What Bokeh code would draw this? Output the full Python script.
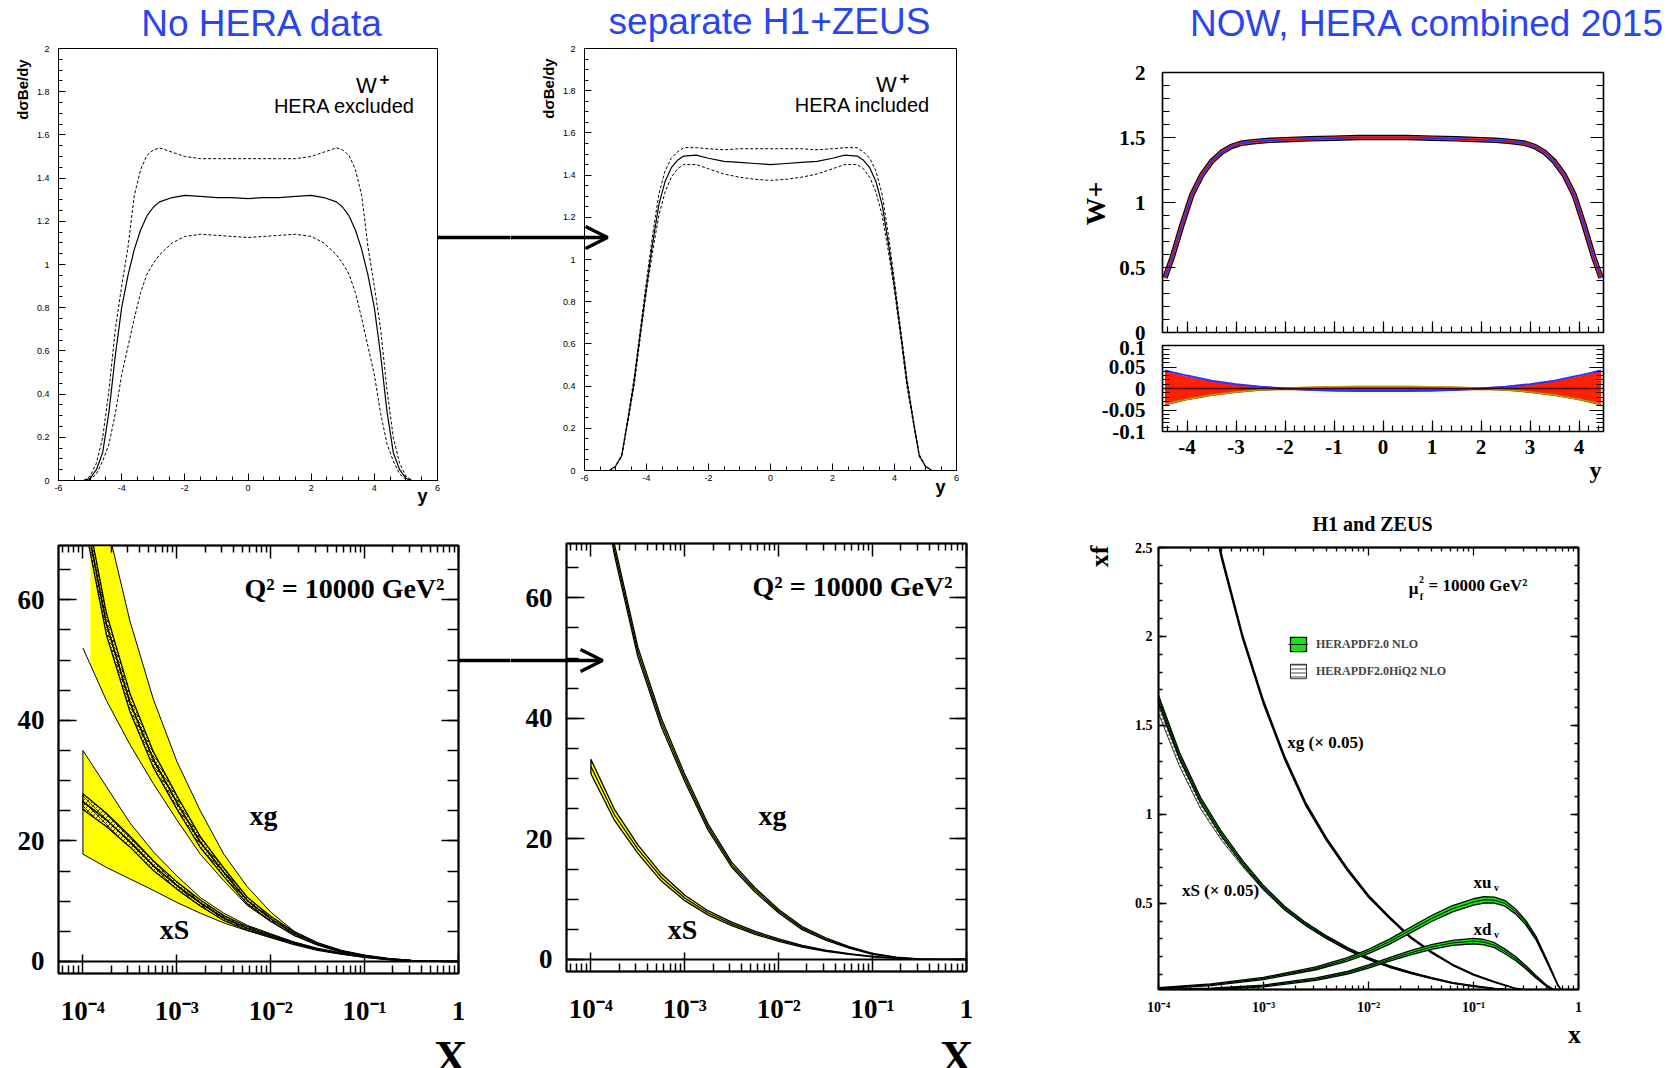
import math
import json
from bokeh.plotting import figure
from bokeh.layouts import row, column
from bokeh.models import (Range1d, LinearAxis, LogAxis, FixedTicker, Label, Arrow, OpenHead,
                          Span, CustomJSTickFormatter, Legend, LegendItem)
from bokeh.embed import file_html
from bokeh.resources import INLINE

W, H = 1672, 1068
SERIF = "Liberation Serif"
SANS = "Liberation Sans"
TITLE_BLUE = "#2a44f2"
YELLOW = "#ffff00"
GREEN = "#14e614"

# ---------------- data: W+ rapidity, HERA excluded / included ----------------
rap = [-5.2, -5.0, -4.8, -4.6, -4.4, -4.2, -4.0, -3.8, -3.6, -3.4, -3.2, -3.0, -2.8, -2.4, -2.0,
       -1.5, -1.0, -0.5, 0.0, 0.5, 1.0, 1.5, 2.0, 2.4, 2.8, 3.0, 3.2, 3.4, 3.6, 3.8, 4.0, 4.2,
       4.4, 4.6, 4.8, 5.0, 5.2]
excl_central = [0.0, 0.01, 0.05, 0.13, 0.32, 0.58, 0.80, 0.95, 1.07, 1.16, 1.225, 1.265, 1.29, 1.31, 1.32,
                1.315, 1.31, 1.31, 1.305, 1.31, 1.31, 1.315, 1.32, 1.31, 1.29, 1.265, 1.225, 1.16, 1.07, 0.95,
                0.80, 0.58, 0.32, 0.13, 0.05, 0.01, 0.0]
excl_up = [0.0, 0.02, 0.08, 0.20, 0.42, 0.70, 0.90, 1.08, 1.32, 1.44, 1.505, 1.53, 1.54, 1.52, 1.50,
           1.49, 1.49, 1.49, 1.49, 1.49, 1.49, 1.49, 1.50, 1.52, 1.54, 1.53, 1.505, 1.44, 1.32, 1.08,
           0.90, 0.70, 0.42, 0.20, 0.08, 0.02, 0.0]
excl_lo = [0.0, 0.005, 0.03, 0.09, 0.17, 0.31, 0.49, 0.62, 0.75, 0.87, 0.955, 1.005, 1.045, 1.10, 1.13,
           1.14, 1.135, 1.13, 1.125, 1.13, 1.135, 1.14, 1.13, 1.10, 1.045, 1.005, 0.955, 0.87, 0.75, 0.62,
           0.49, 0.31, 0.17, 0.09, 0.03, 0.005, 0.0]
incl_central = [0.0, 0.02, 0.07, 0.24, 0.42, 0.65, 0.87, 1.08, 1.26, 1.37, 1.435, 1.47, 1.49, 1.495, 1.48,
                1.465, 1.46, 1.455, 1.45, 1.455, 1.46, 1.465, 1.48, 1.495, 1.49, 1.47, 1.435, 1.37, 1.26, 1.08,
                0.87, 0.65, 0.42, 0.24, 0.07, 0.02, 0.0]
incl_up = [0.0, 0.02, 0.075, 0.25, 0.44, 0.67, 0.90, 1.12, 1.31, 1.42, 1.48, 1.51, 1.53, 1.53, 1.525,
           1.52, 1.525, 1.525, 1.525, 1.525, 1.525, 1.52, 1.525, 1.53, 1.53, 1.51, 1.48, 1.42, 1.31, 1.12,
           0.90, 0.67, 0.44, 0.25, 0.075, 0.02, 0.0]
incl_lo = [0.0, 0.02, 0.065, 0.23, 0.40, 0.63, 0.85, 1.04, 1.21, 1.32, 1.39, 1.43, 1.45, 1.45, 1.43,
           1.405, 1.39, 1.38, 1.375, 1.38, 1.39, 1.405, 1.43, 1.45, 1.45, 1.43, 1.39, 1.32, 1.21, 1.04,
           0.85, 0.63, 0.40, 0.23, 0.065, 0.02, 0.0]

# ---------------- data: W+ HERA combined 2015 ----------------
rap3 = [-4.45, -4.3, -4.1, -3.9, -3.7, -3.5, -3.3, -3.1, -2.9, -2.6, -2.3, -2.0, -1.5, -1.0, -0.5, 0.0,
        0.5, 1.0, 1.5, 2.0, 2.3, 2.6, 2.9, 3.1, 3.3, 3.5, 3.7, 3.9, 4.1, 4.3, 4.45]
wplus = [0.42, 0.58, 0.83, 1.06, 1.21, 1.315, 1.385, 1.43, 1.455, 1.47, 1.478, 1.483, 1.49, 1.495, 1.5, 1.5,
         1.5, 1.495, 1.49, 1.483, 1.478, 1.47, 1.455, 1.43, 1.385, 1.315, 1.21, 1.06, 0.83, 0.58, 0.42]
rap_r = [-4.45, -4.0, -3.5, -3.0, -2.5, -2.0, -1.5, -1.0, -0.5, 0.0, 0.5, 1.0, 1.5, 2.0, 2.5, 3.0, 3.5, 4.0, 4.45]
ratio_hi = [0.04, 0.028, 0.017, 0.01, 0.005, 0.003, 0.004, 0.005, 0.005, 0.005, 0.005, 0.005, 0.004, 0.003,
            0.005, 0.01, 0.017, 0.028, 0.04]
ratio_lo = [-0.038, -0.026, -0.016, -0.009, -0.004, -0.002, -0.004, -0.004, -0.005, -0.005, -0.005, -0.004,
            -0.004, -0.002, -0.004, -0.009, -0.016, -0.026, -0.038]
ratio_blue = [0.042, 0.03, 0.018, 0.01, 0.004, 0.0, -0.003, -0.005, -0.006, -0.006, -0.006, -0.005, -0.003,
              0.0, 0.004, 0.01, 0.018, 0.03, 0.042]
ratio_olive = [-0.036, -0.025, -0.015, -0.008, -0.003, 0.001, 0.003, 0.004, 0.005, 0.005, 0.005, 0.004,
               0.003, 0.001, -0.003, -0.008, -0.015, -0.025, -0.036]

# ---------------- data: PDFs at Q2 = 10000 GeV2 (log10 x grid) ----------------
lx = [-4.0, -3.75, -3.5, -3.25, -3.0, -2.75, -2.5, -2.25, -2.0, -1.75, -1.5, -1.25, -1.0, -0.75, -0.5, -0.25, 0.0]
# no HERA
nh_xg = [76, 56, 43, 33.5, 26.4, 19.8, 14.8, 10.1, 7.1, 4.6, 2.9, 1.7, 0.95, 0.45, 0.15, 0.03, 0.0]
nh_xg_w = [2.0, 1.8, 1.5, 1.3, 1.1, 0.9, 0.7, 0.55, 0.4, 0.3, 0.2, 0.15, 0.1, 0.06, 0.03, 0.01, 0.0]
nh_xg_fill_start = -3.92
nh_xg_hi = [95, 73, 56.5, 43.5, 33.2, 25, 17.8, 12.4, 8.2, 5.0, 3.1, 1.8, 1.0, 0.47, 0.16, 0.03, 0.0]
nh_xg_lo = [52, 43.3, 36, 29.5, 23.5, 17.8, 13.4, 9.3, 6.6, 4.3, 2.75, 1.62, 0.9, 0.43, 0.14, 0.03, 0.0]
nh_xg_lo_start = 49.5
nh_xg_hi_start = 85
nh_xs = [26.5, 23.5, 19.9, 15.9, 12.6, 9.7, 7.2, 5.5, 4.2, 3.0, 2.0, 1.3, 0.75, 0.35, 0.1, 0.02, 0.0]
nh_xs_w = [1.3, 1.1, 0.9, 0.8, 0.6, 0.5, 0.4, 0.3, 0.25, 0.2, 0.15, 0.1, 0.06, 0.04, 0.02, 0.01, 0.0]
nh_xs_hi = [35, 29, 23, 18.2, 14.2, 10.6, 8.0, 6.0, 4.6, 3.2, 2.1, 1.35, 0.78, 0.36, 0.1, 0.02, 0.0]
nh_xs_lo = [17.8, 15.6, 13.7, 11.8, 9.8, 8.0, 6.4, 5.1, 4.0, 2.9, 1.95, 1.27, 0.73, 0.34, 0.1, 0.02, 0.0]
# separate H1 + ZEUS
h_xg = [90, 68, 51, 39.3, 30.1, 21.9, 15.7, 11.5, 8.0, 5.2, 3.4, 2.0, 0.93, 0.35, 0.06, 0.01, 0.0]
h_xg_w = [1.0, 0.9, 0.8, 0.7, 0.6, 0.5, 0.4, 0.35, 0.3, 0.25, 0.2, 0.12, 0.08, 0.04, 0.02, 0.0, 0.0]
h_xs = [32.0, 24.0, 18.3, 13.6, 10.2, 7.7, 5.9, 4.4, 3.2, 2.2, 1.44, 0.9, 0.46, 0.2, 0.05, 0.01, 0.0]
h_xs_w = [1.2, 0.9, 0.7, 0.6, 0.45, 0.35, 0.3, 0.25, 0.2, 0.15, 0.1, 0.07, 0.05, 0.03, 0.01, 0.0, 0.0]

# HERAPDF2.0 NLO, mu_f^2 = 10000 GeV^2
lx6 = [-4.0, -3.8, -3.6, -3.4, -3.2, -3.0, -2.8, -2.6, -2.4, -2.2, -2.0, -1.8, -1.6, -1.4, -1.2, -1.0,
       -0.8, -0.6, -0.4, -0.2, 0.0]
hp_xg = [4.6, 3.7, 3.0, 2.45, 2.0, 1.63, 1.32, 1.06, 0.86, 0.69, 0.54, 0.42, 0.31, 0.225, 0.155, 0.1,
         0.058, 0.022, 0.004, 0.0, 0.0]
hp_xg_w = [0.02, 0.018, 0.016, 0.014, 0.012, 0.011, 0.01, 0.009, 0.008, 0.007, 0.006, 0.005, 0.004,
           0.004, 0.003, 0.003, 0.002, 0.001, 0.0, 0.0, 0.0]
hp_xs = [1.65, 1.33, 1.08, 0.89, 0.73, 0.59, 0.475, 0.385, 0.31, 0.245, 0.19, 0.145, 0.11, 0.08, 0.053,
         0.035, 0.021, 0.01, 0.004, 0.001, 0.0]
hp_xs_w = [0.02, 0.018, 0.016, 0.014, 0.012, 0.01, 0.009, 0.008, 0.007, 0.006, 0.005, 0.004, 0.003,
           0.003, 0.002, 0.002, 0.001, 0.001, 0.0, 0.0, 0.0]
hq_xs = [1.59, 1.29, 1.05, 0.87, 0.72, 0.585, 0.472, 0.383, 0.309, 0.244, 0.19, 0.145, 0.11, 0.08, 0.053,
         0.035, 0.021, 0.01, 0.004, 0.001, 0.0]
hq_xs_w = [0.022, 0.02, 0.018, 0.015, 0.013, 0.011, 0.01, 0.009, 0.008, 0.007, 0.006, 0.005, 0.004,
           0.003, 0.002, 0.002, 0.001, 0.001, 0.0, 0.0, 0.0]
lx6v = [-4.0, -3.5, -3.0, -2.5, -2.2, -2.0, -1.8, -1.6, -1.4, -1.2, -1.0, -0.9, -0.8, -0.7, -0.6, -0.5,
        -0.4, -0.3, -0.25, -0.2, -0.15]
hp_xuv = [0.023, 0.043, 0.078, 0.135, 0.185, 0.23, 0.285, 0.35, 0.415, 0.47, 0.508, 0.52, 0.518, 0.5,
          0.455, 0.39, 0.30, 0.175, 0.11, 0.045, 0.0]
hp_xuv_w = [0.004, 0.005, 0.006, 0.008, 0.01, 0.012, 0.014, 0.016, 0.017, 0.018, 0.018, 0.018, 0.017,
            0.016, 0.014, 0.012, 0.01, 0.007, 0.005, 0.003, 0.0]
hp_xdv = [0.013, 0.02, 0.036, 0.074, 0.11, 0.145, 0.185, 0.222, 0.255, 0.278, 0.288, 0.282, 0.265, 0.23,
          0.19, 0.14, 0.085, 0.035, 0.018, 0.006, 0.0]
hp_xdv_w = [0.003, 0.004, 0.005, 0.007, 0.008, 0.009, 0.01, 0.012, 0.013, 0.014, 0.015, 0.015, 0.014,
            0.013, 0.011, 0.009, 0.007, 0.004, 0.003, 0.002, 0.0]

# ---------------- tick specs ----------------
log_major = [1e-4, 1e-3, 1e-2, 1e-1, 1.0]
log_minor = [k * 10.0 ** e for e in range(-5, 0) for k in range(2, 10)]

LIN_FMT = "return String(Math.round(tick*1000)/1000);"
LOG_FMT = """
const e = Math.round(Math.log10(tick));
if (e === 0) { return "1"; }
const m = {"-": "\u207b", "0": "\u2070", "1": "\u00b9", "2": "\u00b2", "3": "\u00b3", "4": "\u2074",
           "5": "\u2075", "6": "\u2076", "7": "\u2077", "8": "\u2078", "9": "\u2079"};
return "10" + String(e).split("").map(c => m[c]).join("");
"""

TOP_Y = 44        # page y where the panel rows start
MID_Y = 508       # page y where the lower row starts
BOT_Y = 1028      # page y where the bottom text strip starts
COL3_X = 1060     # page x where the right column starts


def no_align(p):
    try:
        p.frame_align = False
    except Exception:
        pass


class Panel:
    """A figure placed at page position (x0, y0), size (w, h); its frame spans L..R, T..B (page px)."""

    def __init__(self, x0, y0, w, h, L, R, T, B, xr, yr, log_x=False, ow=1.0):
        self.L, self.R, self.T, self.B = L, R, T, B
        self.xr, self.yr, self.log_x = xr, yr, log_x
        p = figure(width=w, height=h, x_range=Range1d(*xr), y_range=Range1d(*yr), title=None,
                   x_axis_type="log" if log_x else "linear",
                   x_axis_location=None, y_axis_location=None,
                   output_backend="svg", toolbar_location=None,
                   min_border_left=L - x0, min_border_right=x0 + w - R,
                   min_border_top=T - y0, min_border_bottom=y0 + h - B)
        p.outline_line_color = "black"
        p.outline_line_width = ow
        p.grid.visible = False
        no_align(p)
        self.p = p

    def dx(self, px):
        f = (px - self.L) / (self.R - self.L)
        a, b = self.xr
        if self.log_x:
            return 10.0 ** (math.log10(a) + f * (math.log10(b) - math.log10(a)))
        return a + f * (b - a)

    def dy(self, py):
        f = (self.B - py) / (self.B - self.T)
        a, b = self.yr
        return a + f * (b - a)

    def text(self, px, py, s, size, font=SERIF, style="bold", color="black", angle=0.0,
             align="center", baseline="middle"):
        self.p.add_layout(Label(x=self.dx(px), y=self.dy(py), text=s, text_font=font,
                                text_font_style=style, text_font_size=f"{size}px", text_color=color,
                                angle=angle, text_align=align, text_baseline=baseline))

    def arrow_head(self, px0, px1, py):
        self.p.add_layout(Arrow(end=OpenHead(size=22, line_width=3.5),
                                x_start=self.dx(px0), y_start=self.dy(py),
                                x_end=self.dx(px1), y_end=self.dy(py), line_width=3.5))

    def text_axis(self, side, pos, s, size, font=SERIF, style="bold", color="black", standoff=0,
                  orientation="horizontal"):
        horiz = side in ("above", "below")
        val = self.dx(pos) if horiz else self.dy(pos)
        cls = LogAxis if (horiz and self.log_x) else LinearAxis
        ax = cls(ticker=FixedTicker(ticks=[val], minor_ticks=[]))
        ax.formatter = CustomJSTickFormatter(code="return %s;" % json.dumps(s))
        ax.major_tick_in = 0
        ax.major_tick_out = 0
        ax.minor_tick_in = 0
        ax.minor_tick_out = 0
        ax.axis_line_color = None
        ax.major_tick_line_color = None
        ax.minor_tick_line_color = None
        ax.major_label_text_font = font
        ax.major_label_text_font_style = style
        ax.major_label_text_font_size = f"{size}px"
        ax.major_label_text_color = color
        ax.major_label_standoff = standoff
        ax.major_label_orientation = orientation
        self.p.add_layout(ax, side)

    def shaft_axis(self, side, py, tick_in=0, tick_out=0, lw=3.5):
        """Arrow shaft drawn as one long tick of an otherwise empty axis, inside the border."""
        ax = LinearAxis(ticker=FixedTicker(ticks=[self.dy(py)], minor_ticks=[]))
        ax.formatter = CustomJSTickFormatter(code="return '';")
        ax.major_tick_in = tick_in
        ax.major_tick_out = tick_out
        ax.minor_tick_in = 0
        ax.minor_tick_out = 0
        ax.axis_line_color = None
        ax.minor_tick_line_color = None
        ax.major_tick_line_color = "black"
        ax.major_tick_line_width = lw
        ax.major_label_text_color = None
        ax.major_label_standoff = 0
        self.p.add_layout(ax, side)


def add_axis(p, side, ticks, minor, log=False, show=True, size=12, font=SERIF, style="bold",
             tin=8, mtin=4, standoff=6, lw=1.0):
    cls = LogAxis if log else LinearAxis
    ax = cls(ticker=FixedTicker(ticks=ticks, minor_ticks=minor))
    ax.major_tick_in = tin
    ax.major_tick_out = 0
    ax.minor_tick_in = mtin
    ax.minor_tick_out = 0
    ax.axis_line_color = "black"
    ax.axis_line_width = lw
    ax.major_tick_line_width = lw
    ax.minor_tick_line_width = lw
    ax.major_tick_line_color = "black"
    ax.minor_tick_line_color = "black"
    ax.formatter = CustomJSTickFormatter(code=LOG_FMT if log else LIN_FMT)
    ax.major_label_text_font = font
    ax.major_label_text_font_style = style
    ax.major_label_text_font_size = f"{size}px"
    if show:
        ax.major_label_text_color = "black"
        ax.major_label_standoff = standoff
    else:
        ax.major_label_text_color = None
        ax.major_label_standoff = 0
    p.add_layout(ax, side)
    return ax


def band(p, xs, lo, hi, **kw):
    return p.patch(list(xs) + list(xs)[::-1], list(hi) + list(lo)[::-1], **kw)


def strip(y0, h):
    p = figure(width=W, height=h, x_range=Range1d(0, W), y_range=Range1d(y0 + h, y0), title=None,
               x_axis_location=None, y_axis_location=None, output_backend="svg",
               toolbar_location=None, min_border_left=0, min_border_right=0,
               min_border_top=0, min_border_bottom=0)
    p.outline_line_color = None
    p.grid.visible = False
    no_align(p)
    return p


def strip_text(p, x, y, s, size, font=SERIF, style="bold", color="black"):
    p.add_layout(Label(x=x, y=y, text=s, text_font=font, text_font_style=style,
                       text_font_size=f"{size}px", text_color=color, text_align="center",
                       text_baseline="middle"))


# ---------------- top strip: titles ----------------
top_strip = strip(0, TOP_Y)
strip_text(top_strip, 262, 23, "No HERA data", 37, font=SANS, style="normal", color=TITLE_BLUE)
strip_text(top_strip, 769, 20.5, "separate H1+ZEUS", 37, font=SANS, style="normal", color=TITLE_BLUE)
strip_text(top_strip, 1427, 23, "NOW, HERA combined 2015", 37, font=SANS, style="normal", color=TITLE_BLUE)

# ---------------- panels 1 / 2: W+ rapidity ----------------
rap_major = [-6, -4, -2, 0, 2, 4, 6]
rap_minor = [v / 2 for v in range(-12, 13)]
dsig_major = [0, 0.2, 0.4, 0.6, 0.8, 1.0, 1.2, 1.4, 1.6, 1.8, 2.0]
dsig_minor = [v / 20 for v in range(0, 41)]


def top_panel(x0, w, L, R, B, central, up, lo, shaft_left=None):
    pn = Panel(x0, TOP_Y, w, MID_Y - TOP_Y, L, R, 48, B, (-6, 6), (0, 2))
    p = pn.p
    if shaft_left is not None:
        pn.shaft_axis("left", 237, tick_in=-shaft_left)
    add_axis(p, "left", dsig_major, dsig_minor, size=9, font=SANS, style="normal",
             tin=7, mtin=4, standoff=9)
    add_axis(p, "below", rap_major, rap_minor, size=9, font=SANS, style="normal",
             tin=7, mtin=4, standoff=4)
    p.line(rap, up, line_color="black", line_width=1, line_dash="3 2")
    p.line(rap, lo, line_color="black", line_width=1, line_dash="3 2")
    p.line(rap, central, line_color="black", line_width=1.2)
    return pn


P1 = top_panel(0, 510, 58, 437, 480, excl_central, excl_up, excl_lo)
P1.shaft_axis("right", 237, tick_out=510 - 437)
P1.text_axis("left", 89, "d\u03c3Be/dy", 15, font=SANS, standoff=3, orientation="vertical")
P1.text_axis("below", 422, "y", 18, font=SANS, standoff=-8)
P1.text(366, 85, "W", 22, font=SANS, style="normal")
P1.text(384, 78, "+", 17, font=SANS)
P1.text(344, 105, "HERA excluded", 20, font=SANS, style="normal")

P2 = top_panel(510, COL3_X - 510, 584, 956, 470, incl_central, incl_up, incl_lo, shaft_left=584 - 510)
P2.text_axis("left", 88, "d\u03c3Be/dy", 15, font=SANS, standoff=3, orientation="vertical")
P2.text_axis("below", 940, "y", 18, font=SANS, standoff=-7)
P2.text(886, 84, "W", 22, font=SANS, style="normal")
P2.text(904, 77, "+", 17, font=SANS)
P2.text(862, 104, "HERA included", 20, font=SANS, style="normal")
P2.arrow_head(584, 607, 237)

# ---------------- panel 3: HERA combined ----------------
r3_major = [-4, -3, -2, -1, 0, 1, 2, 3, 4]
r3_minor = [v / 5 for v in range(-22, 23)]
W3 = W - COL3_X
P3a = Panel(COL3_X, TOP_Y, W3, 340 - TOP_Y, 1162, 1603, 72, 332, (-4.5, 4.5), (0, 2), ow=1.5)
p3a = P3a.p
add_axis(p3a, "left", [0, 0.5, 1, 1.5, 2], [v / 10 for v in range(0, 21)], size=21, tin=13, mtin=7,
         standoff=17, lw=1.2)
add_axis(p3a, "right", [0, 0.5, 1, 1.5, 2], [v / 10 for v in range(0, 21)], show=False, tin=13, mtin=7,
         lw=1.2)
add_axis(p3a, "below", r3_major, r3_minor, show=False, tin=11, mtin=6, lw=1.2)
P3a.text_axis("left", 203, "W+", 28, standoff=6, orientation="vertical")
p3a.line(rap3, wplus, line_color="black", line_width=5.5)
p3a.line(rap3, wplus, line_color="#ff2a00", line_width=3.2)
p3a.line(rap3, wplus, line_color="#2a2aff", line_width=1.6)

P3b = Panel(COL3_X, 340, W3, MID_Y - 340, 1162, 1603, 345, 431, (-4.5, 4.5), (-0.1, 0.1), ow=1.5)
p3b = P3b.p
add_axis(p3b, "left", [-0.1, -0.05, 0, 0.05, 0.1], [v / 100 for v in range(-10, 11)], size=21,
         tin=14, mtin=7, standoff=17, lw=1.2)
add_axis(p3b, "right", [-0.1, -0.05, 0, 0.05, 0.1], [v / 100 for v in range(-10, 11)], show=False,
         tin=14, mtin=7, lw=1.2)
add_axis(p3b, "below", r3_major, r3_minor, size=21, tin=11, mtin=6, standoff=8, lw=1.2)
P3b.text_axis("below", 1595, "y", 24, standoff=0)
p3b.varea(x=rap_r, y1=ratio_lo, y2=ratio_hi, fill_color="#ff2000")
p3b.line(rap_r, ratio_lo, line_color="#5a4a00", line_width=1.2)
p3b.line(rap_r, ratio_olive, line_color="#b0a000", line_width=1.5)
p3b.line(rap_r, ratio_blue, line_color="#3030ff", line_width=2)
p3b.add_layout(Span(location=0, dimension="width", line_color="#400000", line_width=1.5))

col3 = column(p3a, p3b, spacing=0)

# ---------------- panels 4 / 5: xg, xS at Q2 = 10000 ----------------
X = [10.0 ** v for v in lx]
xr45 = (10.0 ** -4.26, 1.0)
y45_major = [0, 20, 40, 60]
y45_minor = [v for v in range(0, 70, 5)]


def pdf_panel(x0, w, L, R, T, B, shaft_left=None, shaft_right=None):
    pn = Panel(x0, MID_Y, w, BOT_Y - MID_Y, L, R, T, B, xr45, (-2, 69), log_x=True, ow=2)
    p = pn.p
    if shaft_left is not None:
        pn.shaft_axis("left", 660, tick_in=-shaft_left)
    add_axis(p, "left", y45_major, y45_minor, size=27, tin=18, mtin=12, standoff=14, lw=1.5)
    add_axis(p, "right", y45_major, y45_minor, show=False, tin=17, mtin=11, lw=1.5)
    if shaft_right is not None:
        pn.shaft_axis("right", 660, tick_out=shaft_right)
    add_axis(p, "below", log_major, log_minor, log=True, size=27, tin=19, mtin=8, standoff=22, lw=1.5)
    add_axis(p, "above", log_major, log_minor, log=True, show=False, tin=13, mtin=7, lw=1.5)
    p.add_layout(Span(location=0, dimension="width", line_color="black", line_width=2))
    return pn


P4 = pdf_panel(0, 510, 58, 458, 545, 973, shaft_right=510 - 458)
p4 = P4.p
Xg_fill = [10.0 ** nh_xg_fill_start] + X[1:]
band(p4, X, nh_xs_lo, nh_xs_hi, fill_color=YELLOW, line_color="black", line_width=1)
band(p4, Xg_fill, [nh_xg_lo_start] + nh_xg_lo[1:], [nh_xg_hi_start] + nh_xg_hi[1:],
     fill_color=YELLOW, line_alpha=0)
p4.line(X, nh_xg_lo, line_color="black", line_width=1)
p4.line(X, nh_xg_hi, line_color="black", line_width=1)
for c, w in ((nh_xg, nh_xg_w), (nh_xs, nh_xs_w)):
    band(p4, X, [a - b for a, b in zip(c, w)], [a + b for a, b in zip(c, w)],
         fill_color=YELLOW, hatch_pattern="x", hatch_color="black", hatch_scale=5, hatch_weight=0.8,
         line_color="black", line_width=1.3)
    p4.line(X, c, line_color="black", line_width=1.6)
P4.text(344, 588, "Q\u00b2 = 10000 GeV\u00b2", 28)
P4.text(263, 815, "xg", 28)
P4.text(174, 929, "xS", 28)

P5 = pdf_panel(510, COL3_X - 510, 566, 966, 543, 971, shaft_left=566 - 510)
p5 = P5.p
for c, w in ((h_xg, h_xg_w), (h_xs, h_xs_w)):
    band(p5, X, [a - b for a, b in zip(c, w)], [a + b for a, b in zip(c, w)],
         fill_color=YELLOW, line_color="black", line_width=1.3)
    p5.line(X, c, line_color="black", line_width=1.2)
P5.text(852, 586, "Q\u00b2 = 10000 GeV\u00b2", 28)
P5.text(772, 815, "xg", 28)
P5.text(682, 929, "xS", 28)
P5.arrow_head(566, 602, 660)

# ---------------- panel 6: HERAPDF2.0 ----------------
X6 = [10.0 ** v for v in lx6]
X6v = [10.0 ** v for v in lx6v]
P6 = Panel(COL3_X, MID_Y, W3, BOT_Y - MID_Y, 1158, 1578, 547, 989, (1e-4, 1.0), (0.016, 2.5),
           log_x=True, ow=2)
p6 = P6.p
y6_major = [0.5, 1.0, 1.5, 2.0, 2.5]
y6_minor = [v / 10 for v in range(1, 26)]
add_axis(p6, "left", y6_major, y6_minor, size=14, tin=8, mtin=4, standoff=6, lw=1.3)
add_axis(p6, "right", y6_major, y6_minor, show=False, tin=8, mtin=4, lw=1.3)
add_axis(p6, "below", log_major, log_minor, log=True, size=14, tin=8, mtin=4, standoff=10, lw=1.3)
add_axis(p6, "above", log_major, log_minor, log=True, show=False, tin=8, mtin=4, lw=1.3)
P6.text_axis("left", 556, "xf", 26, standoff=18, orientation="vertical")
P6.text_axis("above", 1372, "H1 and ZEUS", 20, standoff=13)

r_hatch = band(p6, X6, [a - b for a, b in zip(hq_xs, hq_xs_w)], [a + b for a, b in zip(hq_xs, hq_xs_w)],
               fill_alpha=0, hatch_pattern="horizontal_line", hatch_color="black", hatch_scale=4,
               hatch_weight=0.7, line_color="black", line_width=0.8)
green_r = None
line_r = None
for xs, c, w in ((X6, hp_xg, hp_xg_w), (X6, hp_xs, hp_xs_w), (X6v, hp_xuv, hp_xuv_w), (X6v, hp_xdv, hp_xdv_w)):
    r = band(p6, xs, [a - b for a, b in zip(c, w)], [a + b for a, b in zip(c, w)],
             fill_color=GREEN, line_color="black", line_width=1.3)
    lr = p6.line(xs, c, line_color="black", line_width=1)
    if green_r is None:
        green_r, line_r = r, lr

legend = Legend(items=[LegendItem(label="HERAPDF2.0 NLO", renderers=[green_r, line_r]),
                       LegendItem(label="HERAPDF2.0HiQ2 NLO", renderers=[r_hatch])],
                location=(130, 309), orientation="vertical", glyph_width=20, glyph_height=18,
                label_height=18, spacing=9, padding=0, margin=0, border_line_color=None,
                background_fill_alpha=0, label_text_font=SERIF, label_text_font_style="bold",
                label_text_font_size="12px", label_standoff=8)
p6.add_layout(legend)

P6.text(1413, 588, "\u03bc", 17)
P6.text(1421, 579, "2", 10)
P6.text(1421, 596, "f", 10)
P6.text(1428, 585, "= 10000 GeV\u00b2", 17, align="left")
P6.text(1325, 742, "xg (\u00d7 0.05)", 17)
P6.text(1220, 890, "xS (\u00d7 0.05)", 17)
P6.text(1482, 882, "xu", 17)
P6.text(1496, 887, "v", 10)
P6.text(1482, 929, "xd", 17)
P6.text(1496, 934, "v", 10)

# ---------------- bottom strip: x-axis titles ----------------
bot_strip = strip(BOT_Y, H - BOT_Y)
strip_text(bot_strip, 450, 1057, "X", 46)
strip_text(bot_strip, 956, 1057, "X", 46)
strip_text(bot_strip, 1574, 1034, "x", 26)

top_row = row(P1.p, P2.p, col3, spacing=0)
bottom_row = row(P4.p, P5.p, P6.p, spacing=0)
layout = column(top_strip, top_row, bottom_row, bot_strip, spacing=0)

with open("out.html", "w") as f:
    f.write(file_html(layout, INLINE))
